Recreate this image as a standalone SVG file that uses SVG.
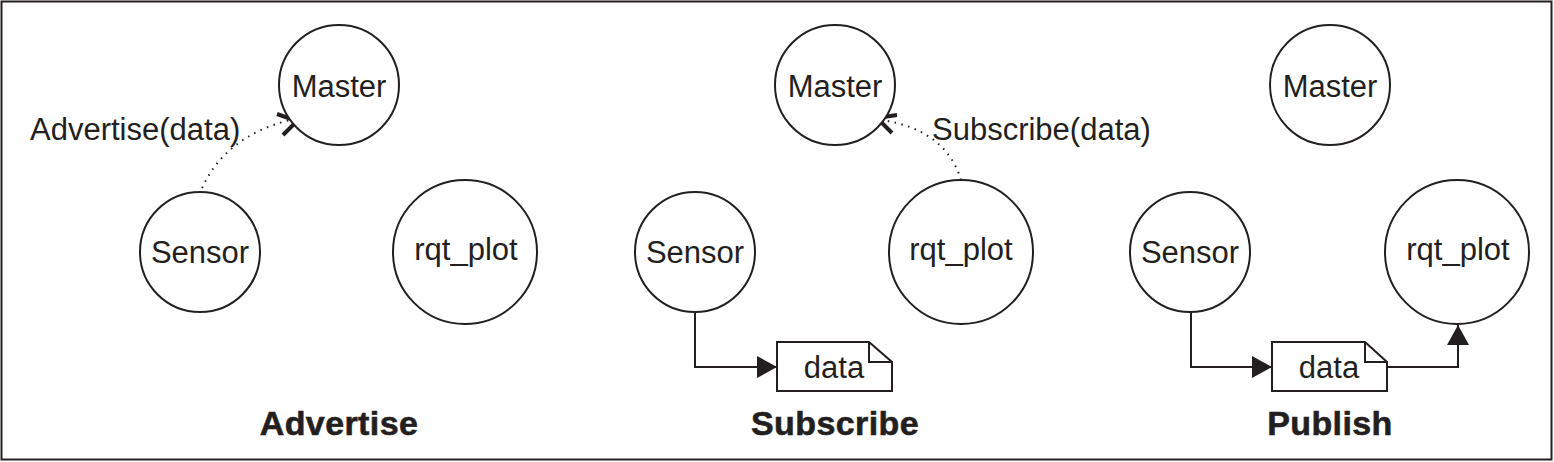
<svg xmlns="http://www.w3.org/2000/svg" width="1554" height="462" viewBox="0 0 1554 462">
<style>
.node{fill:#fff;stroke:#231f20;stroke-width:2}
.lbl{font-family:"Liberation Sans",Arial,sans-serif;font-size:31px;fill:#231f20;text-anchor:middle}
.lbls{font-family:"Liberation Sans",Arial,sans-serif;font-size:31px;fill:#231f20}
.title{font-family:"Liberation Sans",Arial,sans-serif;font-size:34px;font-weight:bold;fill:#231f20;text-anchor:middle;letter-spacing:0.4px;stroke:#231f20;stroke-width:0.6}
.dot{fill:none;stroke:#231f20;stroke-width:2;stroke-dasharray:1.5 5.5}
.conn{fill:none;stroke:#231f20;stroke-width:2}
.chev{fill:none;stroke:#231f20;stroke-width:4;stroke-linejoin:miter}
</style>
<defs>
<marker id="tri" viewBox="0 0 20 22" refX="20" refY="11" markerWidth="20" markerHeight="22" markerUnits="userSpaceOnUse" orient="auto">
<path d="M0,0 L20,11 L0,22 Z" fill="#231f20"/>
</marker>
</defs>
<rect x="1.5" y="1.5" width="1550" height="458" fill="#fff" stroke="#231f20" stroke-width="2"/>

<g id="connectors">
<path class="dot" d="M202,188 Q226,136 290,120"/>
<polyline class="chev" points="277,114 297,121 283,135"/>
<path class="dot" d="M961,180 Q946,130 882,120"/>
<polyline class="chev" points="897,115 877,118 892,133"/>
<path class="conn" d="M695,313 V367 H777" marker-end="url(#tri)"/>
<path class="conn" d="M1191,313 V367 H1272" marker-end="url(#tri)"/>
<path class="conn" d="M1387,367 H1458 V325" marker-end="url(#tri)"/>
</g>

<g id="adv-master"><circle class="node" cx="339" cy="85" r="60"/><text class="lbl" x="339" y="97">Master</text></g>
<g id="adv-sensor"><circle class="node" cx="200" cy="252" r="60"/><text class="lbl" x="200" y="263">Sensor</text></g>
<g id="adv-rqt"><circle class="node" cx="465" cy="252" r="72"/><text class="lbl" x="466" y="260">rqt_plot</text></g>
<g id="adv-label"><text class="lbls" x="30" y="140">Advertise(data)</text></g>
<g id="adv-title"><text class="title" x="339" y="435">Advertise</text></g>

<g id="sub-master"><circle class="node" cx="835" cy="85" r="60"/><text class="lbl" x="835" y="97">Master</text></g>
<g id="sub-sensor"><circle class="node" cx="695" cy="252" r="60"/><text class="lbl" x="695" y="263">Sensor</text></g>
<g id="sub-rqt"><circle class="node" cx="961" cy="252" r="72"/><text class="lbl" x="961" y="260">rqt_plot</text></g>
<g id="sub-label"><text class="lbls" x="932" y="140">Subscribe(data)</text></g>
<g id="sub-data"><path class="node" d="M777,342 H869 L892,362 V391 H777 Z"/><path class="conn" d="M869,342 V362 H892"/><text class="lbl" x="834" y="378">data</text></g>
<g id="sub-title"><text class="title" x="835" y="435">Subscribe</text></g>

<g id="pub-master"><circle class="node" cx="1330" cy="85" r="60"/><text class="lbl" x="1330" y="97">Master</text></g>
<g id="pub-sensor"><circle class="node" cx="1190" cy="252" r="60"/><text class="lbl" x="1190" y="263">Sensor</text></g>
<g id="pub-rqt"><circle class="node" cx="1457" cy="252" r="72"/><text class="lbl" x="1458" y="260">rqt_plot</text></g>
<g id="pub-data"><path class="node" d="M1272,342 H1365 L1387,362 V391 H1272 Z"/><path class="conn" d="M1365,342 V362 H1387"/><text class="lbl" x="1329" y="378">data</text></g>
<g id="pub-title"><text class="title" x="1330" y="435">Publish</text></g>
</svg>
